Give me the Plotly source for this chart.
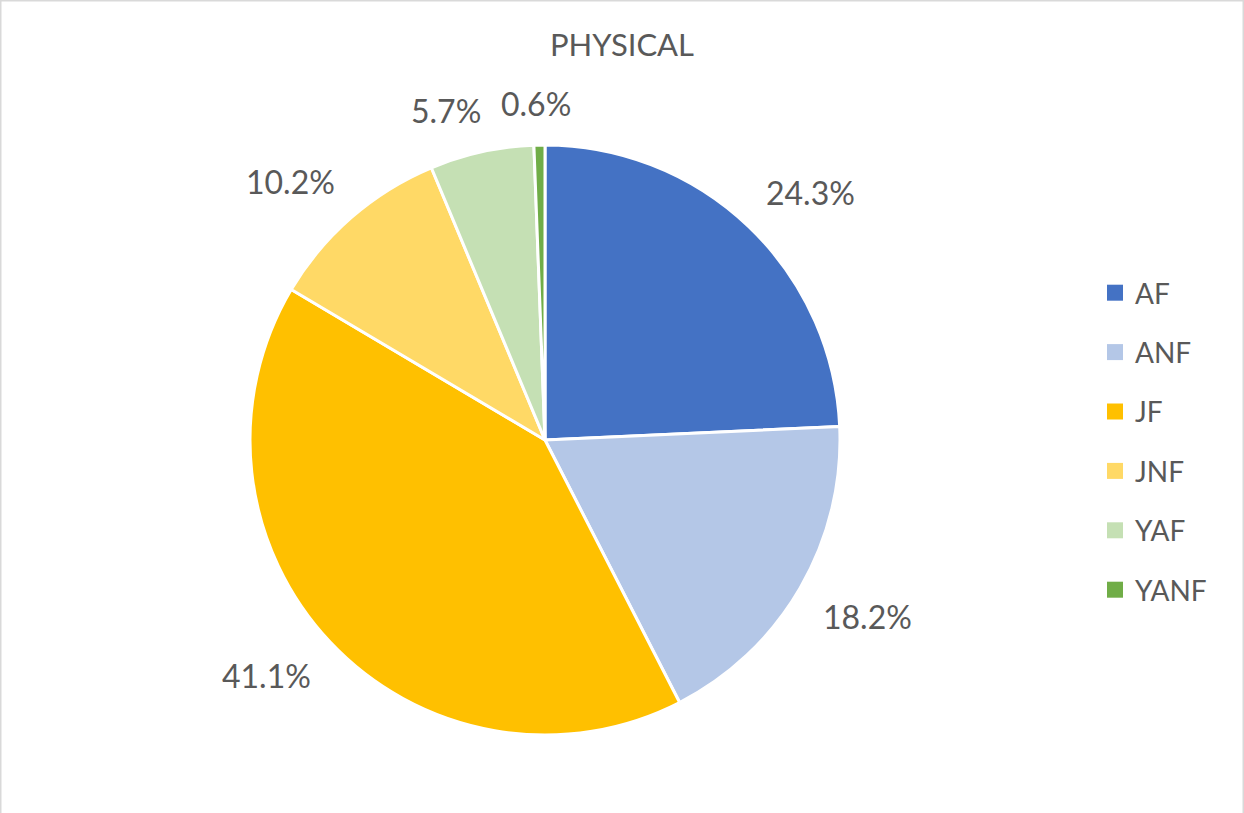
import math
import plotly.graph_objects as go

categories = ["AF", "ANF", "JF", "JNF", "YAF", "YANF"]
values = [24.3, 18.2, 41.1, 10.2, 5.7, 0.6]
label_texts = ["24.3%", "18.2%", "41.1%", "10.2%", "5.7%", "0.6%"]
colors = ["#4472C4", "#B4C7E7", "#FFC000", "#FFD966", "#C5E0B4", "#70AD47"]
title_text = "PHYSICAL"

W, H = 1244, 813
CX, CY, R = 545, 440, 295
TXT = "#595959"
FONT = "Lato"

fig = go.Figure()
fig.add_trace(go.Pie(
    labels=categories, values=values, sort=False, direction="clockwise",
    rotation=0, marker=dict(colors=colors, line=dict(color="white", width=3)),
    textinfo="none", hoverinfo="label+percent", showlegend=False,
    domain=dict(x=[(CX - R) / W, (CX + R) / W], y=[1 - (CY + R) / H, 1 - (CY - R) / H]),
))

# legend entries
for c, col in zip(categories, colors):
    fig.add_trace(go.Scatter(
        x=[None], y=[None], mode="markers", name=c, legendgroup=c,
        marker=dict(symbol="square", size=16, color=col), showlegend=True,
    ))

def clamp(v):
    return max(-1.0, min(1.0, v))

# data labels placed outside the pie, derived from values
total = sum(values)
cum = 0.0
annotations = []
for v, t in zip(values, label_texts):
    mid = (cum + v / 2) / total * 2 * math.pi
    cum += v
    s, c = math.sin(mid), math.cos(mid)
    w_est = 17.4 * len(t)
    h_est = 30
    ra = R + 27
    ax = CX + ra * s
    ay = CY - ra * c
    px = ax + w_est / 2 * clamp(s / 0.25)
    py = ay - h_est / 2 * clamp(c / 0.25)
    annotations.append(dict(
        x=px / W, y=1 - py / H, xref="paper", yref="paper", text=t,
        showarrow=False, xanchor="center", yanchor="middle",
        font=dict(family=FONT, size=32, color=TXT),
    ))

fig.update_layout(
    width=W, height=H, margin=dict(l=0, r=0, t=0, b=0),
    paper_bgcolor="white", plot_bgcolor="white",
    title=dict(text=title_text, x=622 / W, xanchor="center", y=1 - 45 / H, yanchor="middle",
               font=dict(family=FONT, size=31, color=TXT)),
    xaxis=dict(visible=False), yaxis=dict(visible=False),
    legend=dict(x=1095 / W, xanchor="left", y=1 - 268 / H, yanchor="top",
                font=dict(family=FONT, size=28, color=TXT), tracegroupgap=20,
                bgcolor="rgba(0,0,0,0)"),
    annotations=annotations,
    shapes=[dict(type="rect", xref="paper", yref="paper", x0=0, x1=1, y0=-0.01, y1=1,
                 line=dict(color="#D9D9D9", width=3), layer="above")],
)

fig.write_html("out.html", config={"displayModeBar": False},
               post_script="document.body.style.margin='0';document.body.style.overflow='hidden';")
